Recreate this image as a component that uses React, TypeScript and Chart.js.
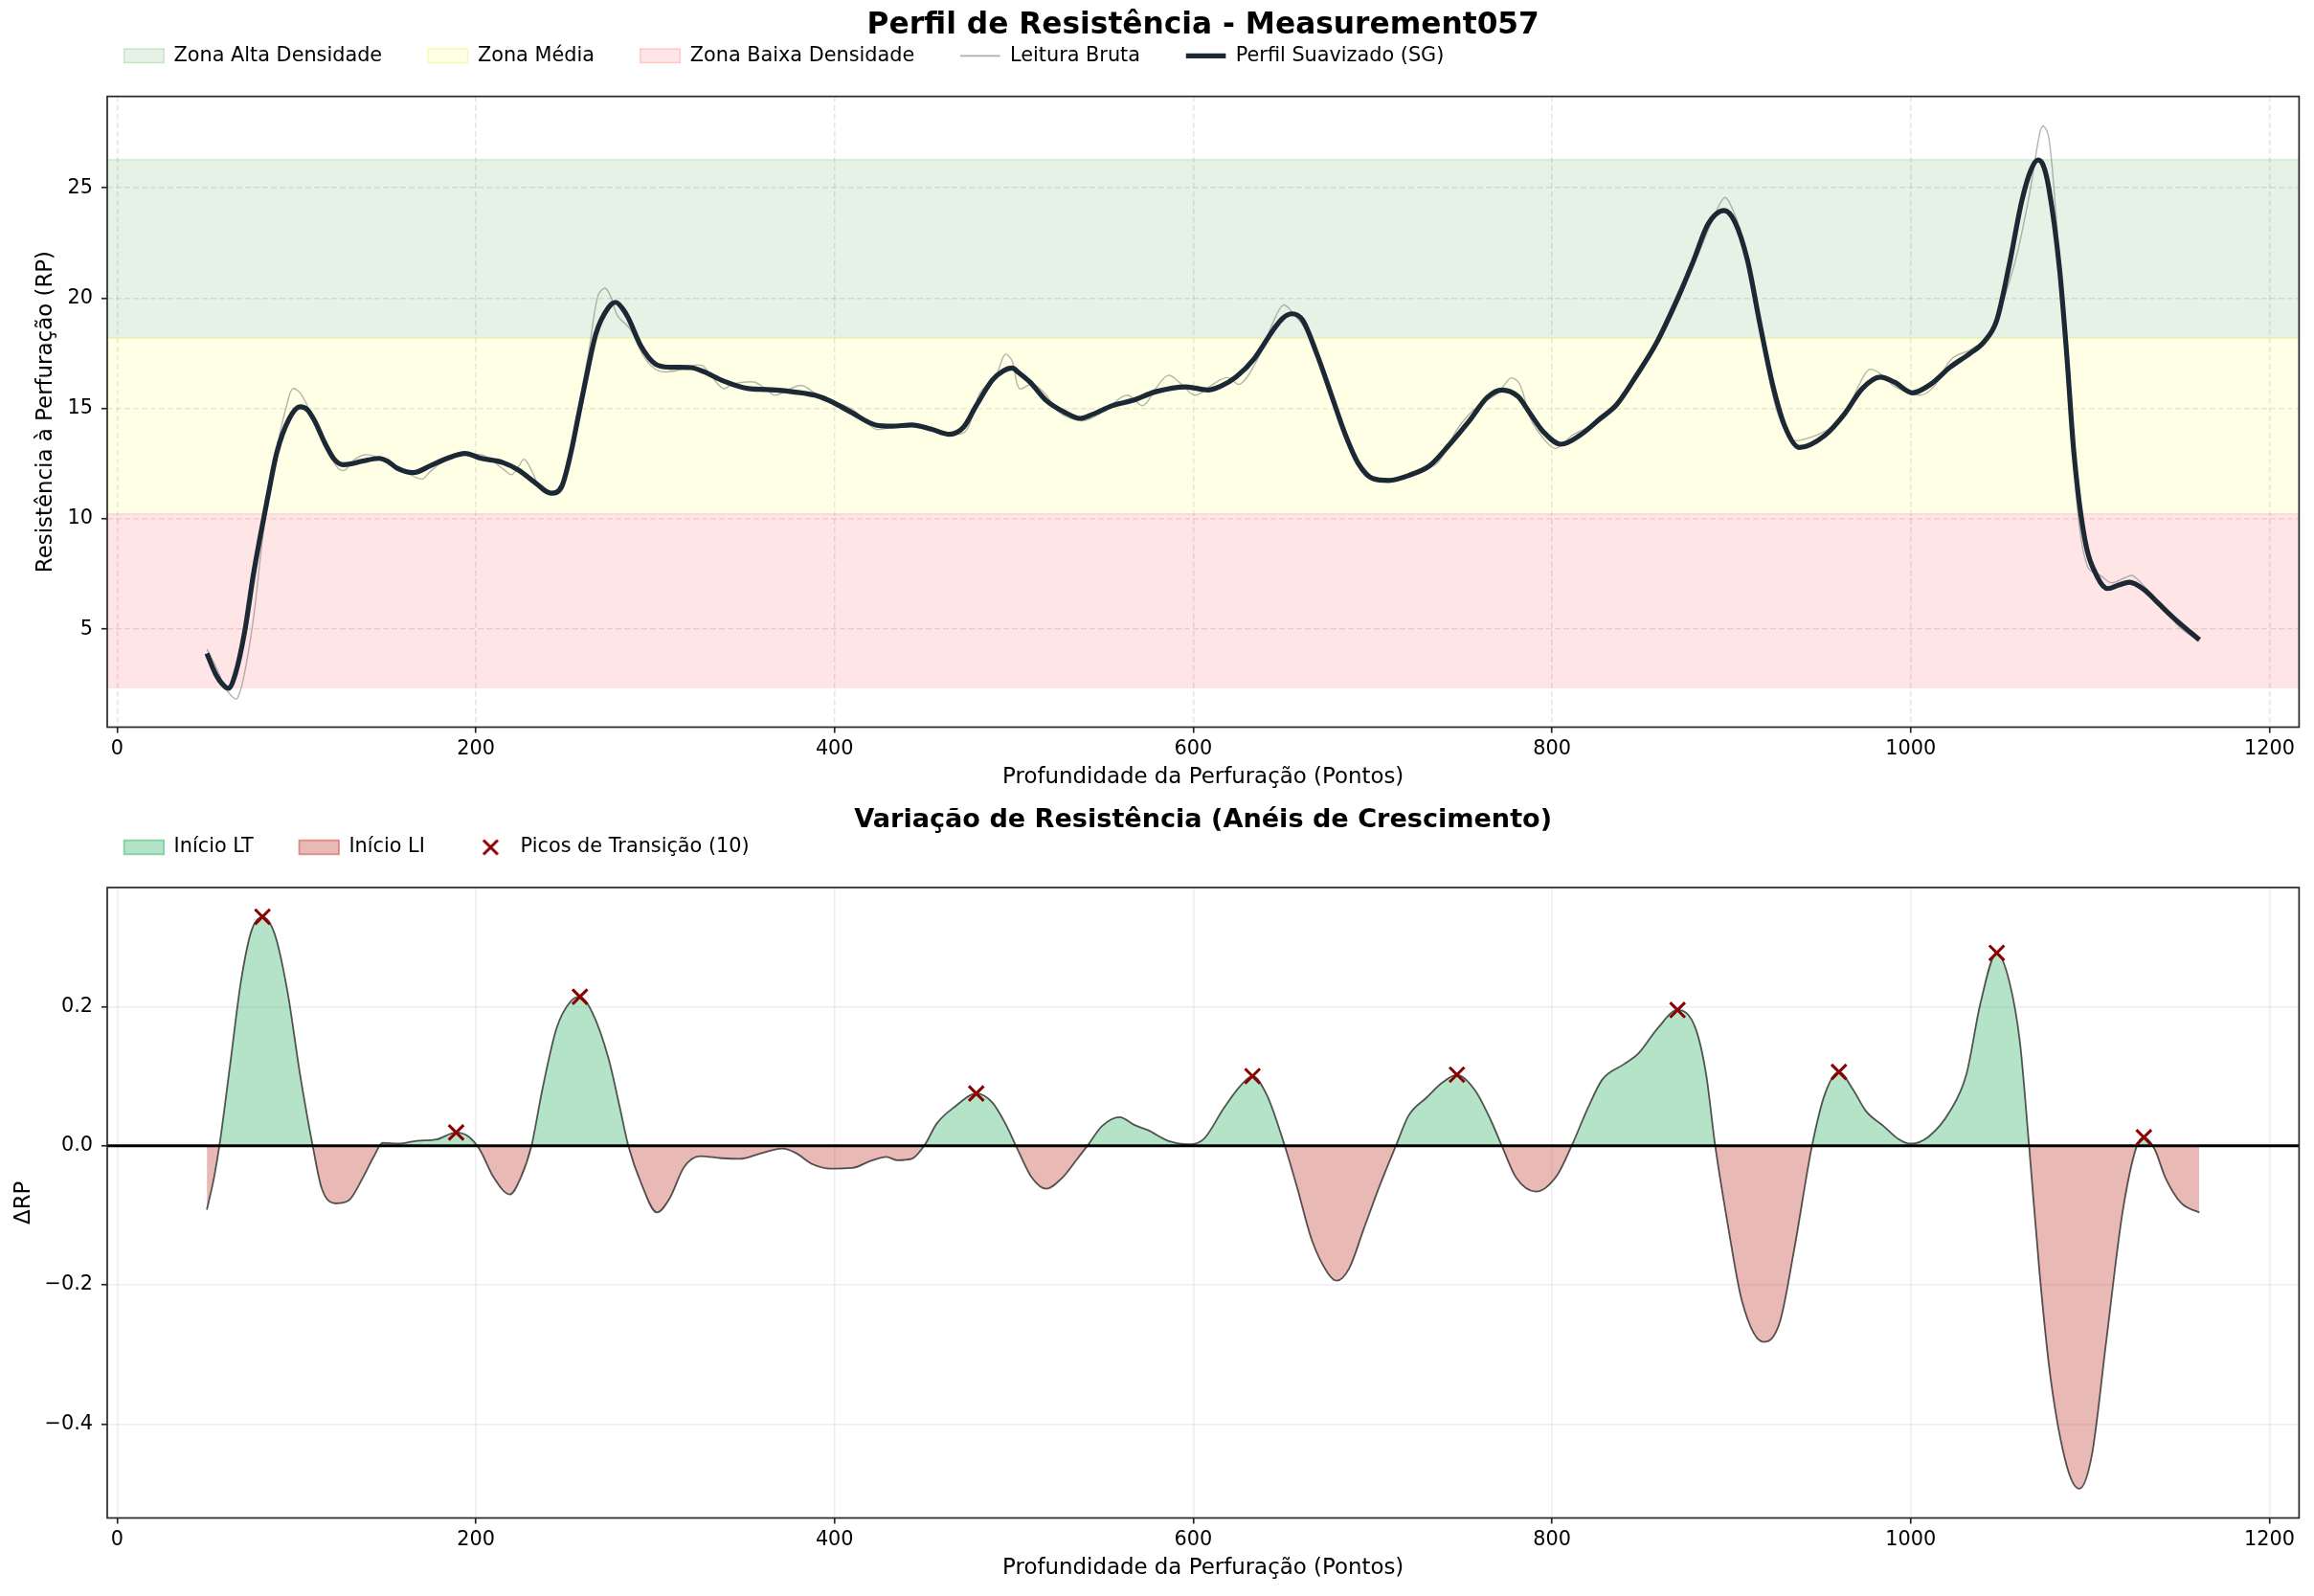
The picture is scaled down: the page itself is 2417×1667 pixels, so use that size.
import React, { useEffect, useRef } from 'react';
import { Chart, registerables } from 'chart.js';

Chart.register(...registerables);

const W = 2417;
const FONT = "'DejaVu Sans', sans-serif";
const FS = 20.8;
const LABEL_FS = 22.9;
const X_MIN = -5.55;
const X_MAX = 1216.55;

// ---------- Tick labels ----------
const xTicks = [0, 200, 400, 600, 800, 1000, 1200];
const topYTicks = [5, 10, 15, 20, 25];
const bottomYTicks = [-0.4, -0.2, 0, 0.2];

// ---------- Top chart data ----------
const profileX = [50, 55, 60, 62, 66, 71, 76, 80, 84, 89, 96, 102, 106, 110, 116, 121, 126, 131, 137, 146, 151, 156, 165, 175, 184, 194, 203, 215, 224, 233, 242, 248, 253, 257, 261, 267, 274, 278, 282, 285, 292, 300, 308, 320, 327, 338, 352, 362, 372, 389, 397, 409, 423, 432, 443, 454, 464, 472, 479, 488, 494, 499, 503, 509, 518, 528, 537, 544, 555, 566, 579, 596, 608, 615, 624, 634, 645, 650, 655, 661, 669, 677, 685, 692, 700, 709, 721, 732, 743, 754, 764, 772, 781, 788, 795, 805, 816, 827, 836, 847, 858, 870, 879, 887, 896, 902, 909, 916, 923, 930, 938, 952, 963, 973, 983, 991, 1001, 1011, 1022, 1033, 1041, 1048, 1055, 1062, 1067, 1071, 1074, 1077, 1083, 1087, 1091, 1097, 1104, 1110, 1116, 1122, 1130, 1138, 1147, 1161];
const profileY = [3.9, 2.95, 2.4, 2.32, 3.0, 4.85, 7.5, 9.3, 11.0, 13.0, 14.55, 15.08, 14.95, 14.45, 13.4, 12.7, 12.45, 12.5, 12.62, 12.74, 12.6, 12.3, 12.09, 12.42, 12.74, 12.96, 12.74, 12.55, 12.2, 11.64, 11.16, 11.5, 13.0, 14.6, 16.2, 18.4, 19.58, 19.81, 19.5, 19.1, 17.84, 17.02, 16.87, 16.85, 16.67, 16.25, 15.9, 15.86, 15.8, 15.6, 15.36, 14.84, 14.25, 14.2, 14.25, 14.06, 13.83, 14.16, 15.13, 16.29, 16.7, 16.83, 16.6, 16.19, 15.36, 14.84, 14.55, 14.74, 15.13, 15.36, 15.76, 15.98, 15.84, 16.0, 16.44, 17.26, 18.61, 19.1, 19.29, 19.0, 17.45, 15.61, 13.77, 12.51, 11.83, 11.74, 11.99, 12.42, 13.38, 14.45, 15.51, 15.84, 15.55, 14.75, 13.96, 13.38, 13.81, 14.55, 15.17, 16.48, 17.93, 19.97, 21.71, 23.35, 23.97, 23.45, 21.71, 18.8, 16.09, 14.16, 13.23, 13.77, 14.74, 15.9, 16.42, 16.19, 15.71, 16.09, 16.87, 17.49, 18.03, 19.0, 21.52, 24.42, 25.8, 26.26, 26.0, 25.0, 21.32, 17.45, 13.0, 9.12, 7.38, 6.84, 7.0, 7.13, 6.8, 6.18, 5.48, 4.52];

const rawX = [50, 55, 60, 64, 67, 71, 76, 82, 89, 95, 98, 103, 110, 115, 123, 127, 131, 138, 145, 153, 161, 170, 174, 180, 187, 196, 205, 216, 220, 224, 227, 231, 237, 245, 249, 256, 263, 268, 272, 275, 279, 286, 294, 302, 311, 319, 326, 331, 338, 343, 355, 362, 367, 381, 389, 397, 409, 416, 423, 432, 443, 454, 462, 473, 481, 490, 495, 499, 503, 510, 517, 525, 536, 543, 552, 563, 572, 579, 586, 593, 601, 611, 619, 626, 636, 645, 650, 654, 664, 673, 684, 694, 704, 715, 726, 736, 748, 759, 770, 777, 782, 788, 794, 802, 811, 819, 829, 837, 848, 861, 872, 881, 890, 896, 899, 905, 912, 919, 926, 934, 941, 952, 962, 972, 977, 983, 991, 1005, 1013, 1023, 1033, 1042, 1051, 1059, 1066, 1072, 1074, 1077, 1081, 1086, 1090, 1094, 1099, 1106, 1112, 1120, 1124, 1133, 1141, 1149, 1161];
const rawY = [4.1, 3.3, 2.4, 1.95, 1.86, 3.0, 5.5, 9.7, 13.2, 15.3, 15.9, 15.6, 14.35, 13.4, 12.3, 12.2, 12.6, 12.9, 12.8, 12.4, 12.1, 11.8, 12.1, 12.5, 12.8, 12.9, 12.85, 12.2, 12.0, 12.4, 12.7, 12.2, 11.25, 11.1, 11.45, 14.5, 17.6, 20.1, 20.45, 20.1, 19.2, 18.6, 17.3, 16.7, 16.7, 16.9, 16.95, 16.5, 15.9, 16.1, 16.2, 15.86, 15.6, 16.05, 15.7, 15.4, 15.0, 14.55, 14.06, 14.16, 14.3, 14.1, 13.9, 13.96, 15.7, 16.5, 17.45, 17.16, 15.9, 16.1, 15.7, 14.84, 14.45, 14.55, 15.0, 15.6, 15.13, 15.9, 16.5, 16.13, 15.6, 16.1, 16.4, 16.1, 17.26, 19.0, 19.68, 19.48, 18.4, 16.7, 13.96, 12.42, 11.74, 11.83, 12.22, 12.51, 14.16, 15.13, 15.7, 16.38, 16.1, 14.55, 13.77, 13.19, 13.77, 14.1, 14.55, 15.3, 16.48, 18.6, 20.55, 21.9, 23.64, 24.55, 24.32, 23.06, 20.35, 17.26, 14.74, 13.58, 13.62, 13.96, 14.55, 16.2, 16.77, 16.58, 16.0, 15.6, 16.0, 17.26, 17.65, 18.2, 19.77, 21.9, 24.6, 27.5, 27.8, 27.3, 23.8, 18.4, 13.58, 9.7, 7.77, 7.42, 7.1, 7.35, 7.42, 6.7, 6.03, 5.16, 4.44];

const zoneNames = ['Zona Alta Densidade', 'Zona Média', 'Zona Baixa Densidade'];
const zoneLow = [18.18, 10.22, 2.32];
const zoneHigh = [26.27, 18.18, 10.22];
const zoneFill = ['rgba(0,128,0,0.1)', 'rgba(255,255,0,0.1)', 'rgba(255,0,0,0.1)'];
const zoneEdge = ['rgba(0,128,0,0.13)', 'rgba(210,230,0,0.22)', 'rgba(255,0,0,0.13)'];
const zoneLegendEdge = ['rgba(0,128,0,0.18)', 'rgba(230,230,0,0.25)', 'rgba(255,0,0,0.18)'];

// ---------- Bottom chart data ----------
const deltaX = [50, 54, 57, 63, 69, 75, 81, 88, 95, 102, 109, 114, 122, 129, 137, 143, 148, 157, 167, 178, 189, 196, 202, 210, 219, 225, 231, 237, 245, 253, 258, 265, 274, 280, 285, 292, 301, 308, 316, 325, 337, 347, 359, 371, 378, 388, 398, 410, 420, 429, 435, 443, 450, 457, 467, 479, 488, 496, 502, 510, 518, 527, 535, 541, 549, 559, 567, 575, 586, 598, 606, 617, 627, 633, 641, 651, 658, 666, 675, 680, 687, 695, 704, 713, 720, 730, 739, 747, 757, 766, 772, 780, 791, 803, 811, 820, 828, 840, 848, 859, 870, 880, 886, 891, 898, 906, 918, 927, 935, 945, 952, 960, 968, 975, 985, 993, 1000, 1010, 1022, 1031, 1039, 1048, 1055, 1061, 1066, 1072, 1078, 1087, 1094, 1101, 1109, 1118, 1126, 1130, 1136, 1142, 1151, 1161];
const deltaY = [-0.092, -0.046, 0, 0.117, 0.236, 0.31, 0.329, 0.303, 0.221, 0.102, 0, -0.061, -0.083, -0.079, -0.046, -0.016, 0.004, 0.003, 0.007, 0.009, 0.019, 0.013, -0.005, -0.046, -0.07, -0.046, 0, 0.08, 0.169, 0.208, 0.214, 0.191, 0.125, 0.058, 0, -0.053, -0.096, -0.076, -0.031, -0.015, -0.018, -0.019, -0.011, -0.004, -0.01, -0.027, -0.033, -0.032, -0.022, -0.016, -0.021, -0.019, 0, 0.032, 0.056, 0.075, 0.062, 0.028, -0.005, -0.046, -0.062, -0.046, -0.02, 0, 0.028, 0.041, 0.03, 0.022, 0.007, 0.002, 0.01, 0.054, 0.088, 0.1, 0.073, 0, -0.061, -0.135, -0.183, -0.194, -0.176, -0.12, -0.057, 0, 0.043, 0.069, 0.091, 0.102, 0.08, 0.036, 0, -0.046, -0.066, -0.042, 0, 0.054, 0.095, 0.117, 0.132, 0.169, 0.195, 0.169, 0.102, 0, -0.113, -0.224, -0.282, -0.254, -0.15, 0, 0.073, 0.106, 0.08, 0.05, 0.028, 0.01, 0.003, 0.013, 0.05, 0.102, 0.206, 0.277, 0.236, 0.147, 0, -0.187, -0.334, -0.46, -0.493, -0.445, -0.282, -0.098, -0.001, 0.012, -0.005, -0.046, -0.083, -0.096];

const peakX = [81, 189, 258, 479, 633, 747, 870, 960, 1048, 1130];
const peakY = [0.329, 0.019, 0.214, 0.075, 0.1, 0.102, 0.195, 0.106, 0.277, 0.012];

const GREEN = 'rgba(39,174,96,0.35)';
const RED = 'rgba(192,57,43,0.35)';

const pts = (xs: number[], ys: number[]) => xs.map((x, i) => ({ x, y: ys[i] }));
const setTicks = (vals: number[]) => (s: any) => {
  s.ticks = vals.map((v) => ({ value: v }));
};

const framePlugin = {
  id: 'frame',
  afterDraw(chart: any) {
    const { ctx, chartArea: a } = chart;
    ctx.save();
    ctx.strokeStyle = '#262626';
    ctx.lineWidth = 1.7;
    ctx.strokeRect(a.left, a.top, a.right - a.left, a.bottom - a.top);
    ctx.restore();
  },
};

const legendPlacer = (cx: number, cy: number) => ({
  id: 'legendPlacer',
  afterLayout(chart: any) {
    const lg = chart.legend;
    if (!lg) return;
    const pad = lg.options.labels.padding;
    const left = cx - pad;
    const top = cy - pad - FS / 2;
    const w = lg.width;
    lg.left = left;
    lg.right = left + w;
    lg.top = top;
    lg.bottom = top + FS + 2 * pad + 10;
  },
});

function makeCross(): HTMLCanvasElement {
  const c = document.createElement('canvas');
  c.width = 20;
  c.height = 20;
  const g = c.getContext('2d')!;
  g.strokeStyle = '#8b0000';
  g.lineWidth = 3;
  g.beginPath();
  g.moveTo(2.5, 2.5);
  g.lineTo(17.5, 17.5);
  g.moveTo(17.5, 2.5);
  g.lineTo(2.5, 17.5);
  g.stroke();
  return c;
}

const tickFont = { family: FONT, size: FS };
const labelFont = { family: FONT, size: LABEL_FS };

function xScale(height: number, titlePadBottom: number, gridColor: string, dash: number[]) {
  return {
    type: 'linear',
    min: X_MIN,
    max: X_MAX,
    afterBuildTicks: setTicks(xTicks),
    ticks: {
      font: tickFont,
      color: '#000',
      padding: 4.5,
      maxRotation: 0,
      autoSkip: false,
      callback: (v: any) => String(v),
    },
    grid: { color: gridColor, lineWidth: 1.5, tickColor: '#262626', tickWidth: 1.7, tickLength: 6 },
    border: { display: false, dash },
    title: {
      display: true,
      text: 'Profundidade da Perfuração (Pontos)',
      font: labelFont,
      color: '#000',
      padding: { top: 0, bottom: titlePadBottom },
    },
    afterFit: (s: any) => {
      s.height = height;
    },
  };
}

function buildTop(): any {
  const zoneSets = zoneNames.map((name, i) => ({
    label: name,
    data: [
      { x: X_MIN, y: zoneHigh[i] },
      { x: X_MAX, y: zoneHigh[i] },
    ],
    borderColor: zoneEdge[i],
    borderWidth: 1.5,
    backgroundColor: zoneFill[i],
    fill: { value: zoneLow[i] },
    pointRadius: 0,
    order: 2 + i,
  }));
  const gridC = 'rgba(176,176,176,0.33)';
  return {
    type: 'line',
    data: {
      datasets: [
        ...zoneSets,
        {
          label: 'Leitura Bruta',
          data: pts(rawX, rawY),
          borderColor: 'rgba(120,120,120,0.55)',
          borderWidth: 1.4,
          pointRadius: 0,
          tension: 0.35,
          fill: false,
          order: 1,
        },
        {
          label: 'Perfil Suavizado (SG)',
          data: pts(profileX, profileY),
          borderColor: '#1c2833',
          borderWidth: 5.2,
          pointRadius: 0,
          cubicInterpolationMode: 'monotone',
          fill: false,
          order: 0,
        },
      ],
    },
    options: {
      responsive: false,
      maintainAspectRatio: false,
      animation: false,
      events: [],
      layout: { padding: { left: 0, right: 15.6, top: 0, bottom: 0 } },
      scales: {
        x: xScale(70.5, 4.25, gridC, [6, 3]),
        y: {
          type: 'linear',
          min: 0.56,
          max: 29.14,
          afterBuildTicks: setTicks(topYTicks),
          ticks: { font: tickFont, color: '#000', padding: 9, callback: (v: any) => String(v) },
          grid: { color: gridC, lineWidth: 1.5, tickColor: '#262626', tickWidth: 1.7, tickLength: 6 },
          border: { display: false, dash: [6, 3] },
          title: {
            display: true,
            text: 'Resistência à Perfuração (RP)',
            font: labelFont,
            color: '#000',
            padding: { top: 34.5, bottom: 0 },
          },
          afterFit: (s: any) => {
            s.width = 112;
          },
        },
      },
      plugins: {
        tooltip: { enabled: false },
        title: {
          display: true,
          text: 'Perfil de Resistência - Measurement057',
          fullSize: false,
          font: { family: FONT, size: 31.25, weight: 'bold' },
          color: '#000',
          padding: { top: 7.95, bottom: 15.25 },
        },
        legend: {
          position: 'top',
          align: 'start',
          fullSize: false,
          maxHeight: 40,
          labels: {
            usePointStyle: true,
            pointStyleWidth: 41.6,
            boxHeight: 14.6,
            padding: 47.8,
            color: '#000',
            font: tickFont,
            generateLabels: () => [
              ...zoneNames.map((n, i) => ({
                text: n,
                fillStyle: zoneFill[i],
                strokeStyle: zoneLegendEdge[i],
                lineWidth: 1.5,
                pointStyle: 'rect',
                hidden: false,
                datasetIndex: i,
                fontColor: '#000',
              })),
              { text: 'Leitura Bruta', fillStyle: 'rgba(0,0,0,0)', strokeStyle: 'rgba(120,120,120,0.6)', lineWidth: 1.7, pointStyle: 'line', hidden: false, datasetIndex: 3, fontColor: '#000' },
              { text: 'Perfil Suavizado (SG)', fillStyle: 'rgba(0,0,0,0)', strokeStyle: '#1c2833', lineWidth: 5.2, pointStyle: 'line', hidden: false, datasetIndex: 4, fontColor: '#000' },
            ],
          },
        },
      },
    },
    plugins: [framePlugin, legendPlacer(129.6, 58.3)],
  };
}

function buildBottom(): any {
  const cross = makeCross();
  const gridC = 'rgba(176,176,176,0.22)';
  return {
    type: 'line',
    data: {
      datasets: [
        {
          label: 'Picos de Transição (10)',
          data: pts(peakX, peakY),
          showLine: false,
          pointStyle: 'crossRot',
          pointRadius: 11,
          pointBorderWidth: 3,
          pointBorderColor: '#8b0000',
          pointBackgroundColor: '#8b0000',
          order: 0,
        },
        {
          label: 'zero',
          data: [
            { x: X_MIN, y: 0 },
            { x: X_MAX, y: 0 },
          ],
          borderColor: '#000',
          borderWidth: 3,
          pointRadius: 0,
          fill: false,
          order: 1,
        },
        {
          label: 'ΔRP',
          data: pts(deltaX, deltaY),
          borderColor: 'rgba(25,25,25,0.72)',
          borderWidth: 1.8,
          pointRadius: 0,
          cubicInterpolationMode: 'monotone',
          fill: { target: 'origin', above: GREEN, below: RED },
          order: 2,
        },
      ],
    },
    options: {
      responsive: false,
      maintainAspectRatio: false,
      animation: false,
      events: [],
      layout: { padding: { left: 0, right: 15.6, top: 0, bottom: 0 } },
      scales: {
        x: xScale(81.5, 14.75, gridC, []),
        y: {
          type: 'linear',
          min: -0.535,
          max: 0.371,
          afterBuildTicks: setTicks(bottomYTicks),
          ticks: {
            font: tickFont,
            color: '#000',
            padding: 9,
            callback: (v: any) => {
              const n = Number(v);
              if (Math.abs(n) < 1e-9) return '0.0';
              return (n < 0 ? '\u2212' : '') + Math.abs(n).toFixed(1);
            },
          },
          grid: { color: gridC, lineWidth: 1.5, tickColor: '#262626', tickWidth: 1.7, tickLength: 6 },
          border: { display: false },
          title: {
            display: true,
            text: 'ΔRP',
            font: labelFont,
            color: '#000',
            padding: { top: 11, bottom: 0 },
          },
          afterFit: (s: any) => {
            s.width = 112;
          },
        },
      },
      plugins: {
        tooltip: { enabled: false },
        title: {
          display: true,
          text: 'Variação de Resistência (Anéis de Crescimento)',
          fullSize: false,
          font: { family: FONT, size: 27.1, weight: 'bold' },
          color: '#000',
          padding: { top: 10.75, bottom: 13.75 },
        },
        legend: {
          position: 'top',
          align: 'start',
          fullSize: false,
          maxHeight: 40,
          labels: {
            usePointStyle: true,
            pointStyleWidth: 41.6,
            boxHeight: 14.6,
            padding: 47.8,
            color: '#000',
            font: tickFont,
            generateLabels: () => [
              { text: 'Início LT', fillStyle: GREEN, strokeStyle: 'rgba(39,174,96,0.5)', lineWidth: 1.7, pointStyle: 'rect', hidden: false, datasetIndex: 2, fontColor: '#000' },
              { text: 'Início LI', fillStyle: RED, strokeStyle: 'rgba(192,57,43,0.5)', lineWidth: 1.7, pointStyle: 'rect', hidden: false, datasetIndex: 2, fontColor: '#000' },
              { text: 'Picos de Transição (10)', fillStyle: '#8b0000', strokeStyle: '#8b0000', lineWidth: 0, pointStyle: cross, hidden: false, datasetIndex: 0, fontColor: '#000' },
            ],
          },
        },
      },
    },
    plugins: [framePlugin, legendPlacer(129.6, 55)],
  };
}

function ChartCanvas({ top, height, build }: { top: number; height: number; build: () => any }) {
  const ref = useRef<HTMLCanvasElement>(null);
  useEffect(() => {
    const chart = new Chart(ref.current as HTMLCanvasElement, build());
    return () => chart.destroy();
  }, []);
  return (
    <canvas
      ref={ref}
      width={W}
      height={height}
      style={{ position: 'absolute', left: 0, top, width: W, height, display: 'block' }}
    />
  );
}

export default function App() {
  return (
    <div style={{ position: 'absolute', left: 0, top: 0, width: W, height: 1667, background: '#fff', overflow: 'hidden' }}>
      <ChartCanvas top={0} height={830} build={buildTop} />
      <ChartCanvas top={830} height={837} build={buildBottom} />
    </div>
  );
}
